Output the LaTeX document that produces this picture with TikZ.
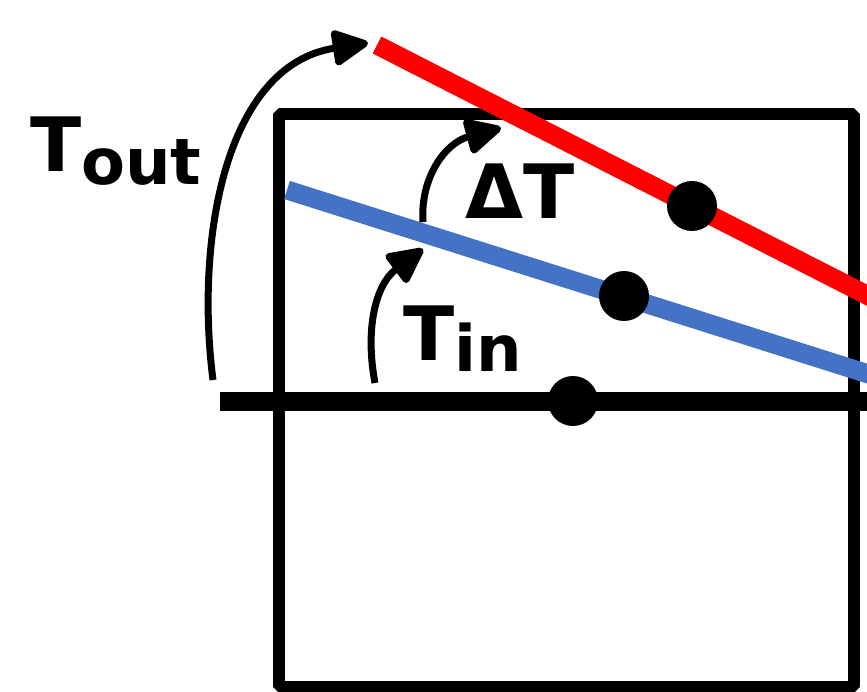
\documentclass[tikz,border=0pt]{standalone}
\usepackage{fontspec}
\setmainfont{DejaVu Sans}
\usetikzlibrary{arrows.meta}
\begin{document}
\begin{tikzpicture}[x=1pt,y=-1pt,
  boxline/.style={line width=12pt,line join=bevel},
  axisline/.style={line width=19pt},
  redline/.style={line width=19pt,color={rgb,255:red,255;green,0;blue,0}},
  blueline/.style={line width=19pt,color={rgb,255:red,68;green,114;blue,196}},
  dot/.style={circle,fill=black,inner sep=0pt,minimum size=50pt},
  curvearrow/.style={line width=7pt,-{Triangle[round,length=40pt,width=38pt]}},
  lbl/.style={anchor=base west,inner sep=0pt,font=\fontsize{75}{75}\selectfont\bfseries}]
\useasboundingbox (0,0) rectangle (867,692);
\clip (0,0) rectangle (867,692);
% box
\draw[boxline] (279,114) rectangle (854,687);
% horizontal axis
\coordinate (axL) at (220,401);
\coordinate (axR) at (900,401);
\draw[axisline] (axL) -- (axR);
% red and blue lines
\coordinate (rS) at (377,45);
\coordinate (rE) at (900,312);
\coordinate (bS) at (287,190);
\coordinate (bE) at (900,384);
\draw[redline] (rS) -- (rE);
\draw[blueline] (bS) -- (bE);
% dots
\node[dot] (d0) at (573,401) {};
\node[dot] (d1) at (624,296) {};
\node[dot] (d2) at (692,206) {};
% arrows
\coordinate (toutS) at (213,380);
\coordinate (toutE) at (368,43);
\draw[curvearrow] (toutS) .. controls (195,240) and (225,65) .. (toutE);
\coordinate (tinS) at (375,383);
\coordinate (tinE) at (423,249);
\draw[curvearrow] (tinS) .. controls (365,330) and (375,285) .. (tinE);
\coordinate (dtS) at (423,222);
\coordinate (dtE) at (501,128);
\draw[curvearrow] (dtS) .. controls (420,178) and (445,143) .. (dtE);
% labels
\node[lbl] (tout) at (30,172) {T\raisebox{-13pt}{\fontsize{64}{64}\selectfont\bfseries out}};
\node[lbl] (tin) at (403,360) {T\raisebox{-11pt}{\fontsize{64}{64}\selectfont\bfseries in}};
\node[lbl] (dt) at (465,219) {ΔT};
\end{tikzpicture}
\end{document}
